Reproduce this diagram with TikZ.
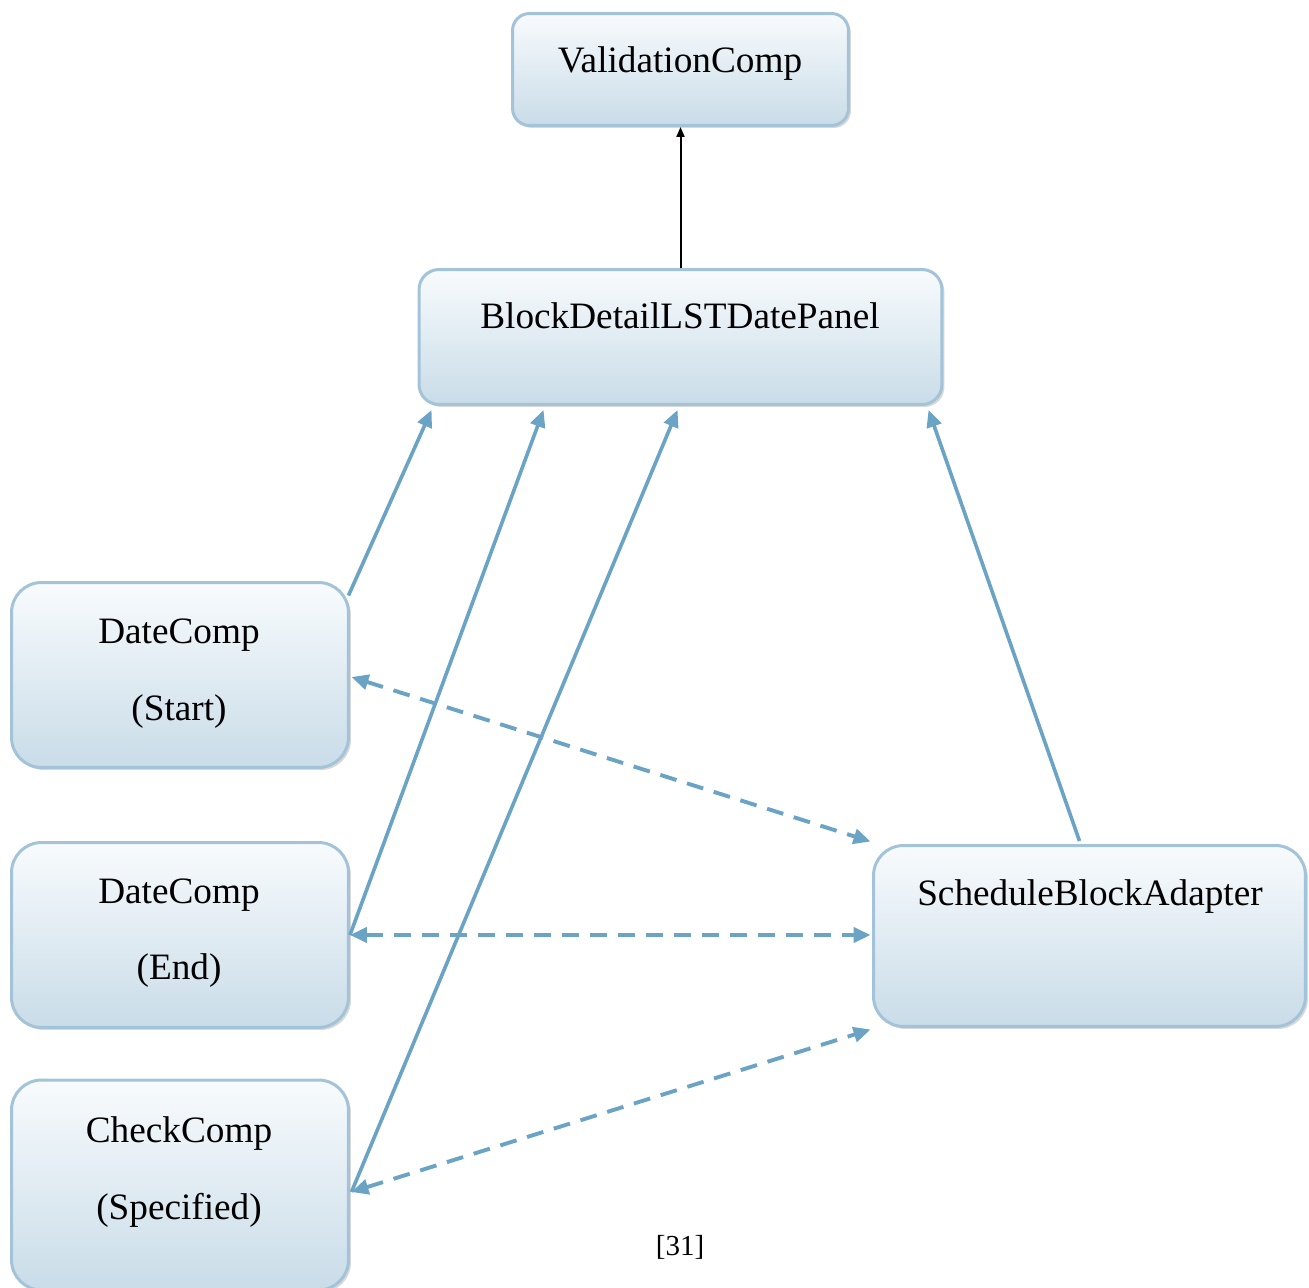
\documentclass[tikz,border=0pt]{standalone}
\usepackage{fontspec}
\setmainfont{Liberation Serif}
\usetikzlibrary{arrows.meta,shadows,calc}

\definecolor{boxtop}{HTML}{F8FBFD}
\definecolor{boxbot}{HTML}{C9DCE8}
\definecolor{boxedge}{HTML}{A3C3D8}
\definecolor{linkblue}{HTML}{6BA3C4}

\tikzset{
  compbox/.style={
    draw=boxedge, line width=0.06cm, rounded corners=#1,
    top color=boxtop, bottom color=boxbot,
    drop shadow={shadow xshift=0.05cm, shadow yshift=-0.05cm, opacity=0.25, fill=black!60},
    inner sep=0pt
  },
  compbox/.default=0.6cm,
  label/.style={anchor=base, inner sep=0pt, font=\fontsize{21.2}{25}\selectfont},
  uses/.style={draw=linkblue, line width=0.072cm,
    -{Triangle[length=0.34cm,width=0.3cm]}, color=linkblue},
  talks/.style={draw=linkblue, line width=0.078cm, dash pattern=on 0.34cm off 0.22cm,
    {Triangle[length=0.34cm,width=0.3cm]}-{Triangle[length=0.34cm,width=0.3cm]}, color=linkblue},
  feeds/.style={draw=black, line width=0.04cm, -{Triangle[length=0.2cm,width=0.16cm]}}
}

\begin{document}
\begin{tikzpicture}[x=0.02cm, y=-0.02cm]
  \useasboundingbox (0,0) rectangle (1309,1288);

  % components
  \node[compbox=0.34cm, minimum width=6.72cm, minimum height=2.24cm] (val) at (680.5,69.5) {};
  \node[compbox=0.4cm, minimum width=10.46cm, minimum height=2.70cm] (bdp) at (680.5,337) {};
  \node[compbox, minimum width=6.74cm, minimum height=3.70cm] (ds) at (180,675) {};
  \node[compbox, minimum width=6.74cm, minimum height=3.70cm] (de) at (180,935) {};
  \node[compbox, minimum width=6.74cm, minimum height=4.20cm] (cc) at (180,1185) {};
  \node[compbox, minimum width=8.64cm, minimum height=3.62cm] (sba) at (1089.5,936) {};

  % captions
  \node[label] (valT) at (680,72) {ValidationComp};
  \node[label] (bdpT) at (680,328) {BlockDetailLSTDatePanel};
  \node[label] (dsT1) at (179,643) {DateComp};
  \node[label] (dsT2) at (179,720) {(Start)};
  \node[label] (deT1) at (179,903) {DateComp};
  \node[label] (deT2) at (179,979) {(End)};
  \node[label] (ccT1) at (179,1142) {CheckComp};
  \node[label] (ccT2) at (179,1219) {(Specified)};
  \node[label] (sbaT) at (1090,905) {ScheduleBlockAdapter};
  \node[anchor=base, inner sep=0pt, font=\fontsize{16.5}{20}\selectfont] (ref) at (680,1255) {[31]};

  % panel to validation
  \draw[feeds] (bdp.north) -- (val.south);

  % components feeding the panel
  \draw[uses] ($(ds.north east)+(-1.5,14.5)$) -- ($(bdp.south west)+(14,4)$);
  \draw[uses] (de.east) -- ($(bdp.south west)+(126,4)$);
  \draw[uses] ($(cc.east)+(1.5,7)$) -- ($(bdp.south west)+(260,4)$);
  \draw[uses] ($(sba.north)+(-10,-3)$) -- ($(bdp.south west)+(511,4)$);

  % adapter links
  \draw[talks] ($(ds.east)+(1.5,2)$) -- ($(sba.north west)+(-1.5,-2.5)$);
  \draw[talks] (de.east) -- ($(sba.west)+(-1.5,-1)$);
  \draw[talks] ($(cc.east)+(1.5,7)$) -- ($(sba.south west)+(-1.5,1.5)$);
\end{tikzpicture}
\end{document}
